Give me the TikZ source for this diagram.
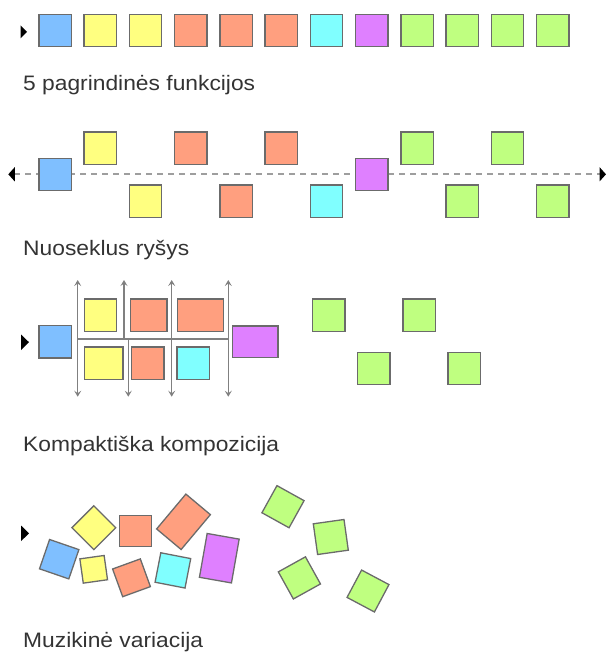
\documentclass[tikz,border=0pt]{standalone}
\usepackage{fontspec}
\setmainfont{Liberation Sans}[FakeStretch=1.09]
\usetikzlibrary{arrows.meta}
\definecolor{cblue}{HTML}{7FBFFF}
\definecolor{cyel}{HTML}{FFFF80}
\definecolor{cora}{HTML}{FF9F7F}
\definecolor{ccya}{HTML}{80FFFF}
\definecolor{cpur}{HTML}{DF80FF}
\definecolor{cgre}{HTML}{BFFF80}
\definecolor{ctxt}{HTML}{333333}
\tikzset{
  box/.style={rectangle, draw=black!58, line width=1.3bp, inner sep=0pt,
    minimum width=32.3bp, minimum height=32.3bp},
  lbl/.style={anchor=base west, inner sep=0pt, text=ctxt,
    font=\fontsize{21}{25}\selectfont},
  marker/.style={fill=black},
  dline/.style={draw=black!38, line width=2bp, dash pattern=on 6bp off 5bp,
    >={Triangle[length=6.5bp,width=14bp,black]}, <->},
  vline/.style={draw=black!50, line width=1.5bp,
    >={Stealth[length=6bp,width=7bp,inset=2.5bp]}, <->},
  hline/.style={draw=black!50, line width=1.5bp}
}
\begin{document}
\begin{tikzpicture}[x=1bp,y=-1bp]
\useasboundingbox (0,0) rectangle (606,653);

% ---------- Row 1 ----------
\fill[marker] (20.5,25.5) -- (27,32) -- (20.5,38.5) -- cycle;
\foreach \i/\c in {0/cblue,1/cyel,2/cyel,3/cora,4/cora,5/cora,6/ccya,7/cpur,8/cgre,9/cgre,10/cgre,11/cgre}{
  \node[box, fill=\c] (a\i) at ({55+45.25*\i},30.5) {};
}
\node[lbl] (t1) at (23,90.7) {5 pagrindinės funkcijos};

% ---------- Row 2 ----------
\coordinate (l2) at (8.3,174.3);
\coordinate (r2) at (606,174.3);
\draw[dline] (l2) -- (r2);
\foreach \i/\c/\y in {0/cblue/174.5,1/cyel/148,2/cyel/201,3/cora/148,4/cora/201,5/cora/148,6/ccya/201,7/cpur/174.5,8/cgre/148,9/cgre/201,10/cgre/148,11/cgre/201}{
  \node[box, fill=\c] (b\i) at ({55+45.25*\i},\y) {};
}
\node[lbl] (t2) at (23,255) {Nuoseklus ryšys};

% ---------- Row 3 ----------
\fill[marker] (21,334.5) -- (29,342.2) -- (21,350) -- cycle;
\coordinate (v1t) at (77.7,280);   \coordinate (v1b) at (77.7,396.7);
\coordinate (v2t) at (124,280);    \coordinate (v2m) at (124,339);
\coordinate (v2n) at (128.3,339);  \coordinate (v2b) at (128.3,396.7);
\coordinate (v3t) at (171.7,280);  \coordinate (v3b) at (171.7,396.7);
\coordinate (v4t) at (228.3,280);  \coordinate (v4b) at (228.3,396.7);
\coordinate (hl) at (77.7,339);    \coordinate (hr) at (228.3,339);
\draw[hline] (hl) -- (hr);
\draw[vline] (v1t) -- (v1b);
\draw[vline, ->] (v2m) -- (v2t);
\draw[vline, ->] (v2n) -- (v2b);
\draw[vline] (v3t) -- (v3b);
\draw[vline] (v4t) -- (v4b);
\node[box, fill=cblue] (c0) at (55,341.7) {};
\node[box, fill=cyel] (c1) at (100.5,315) {};
\node[box, fill=cora, minimum width=36.5bp] (c2) at (148.7,315) {};
\node[box, fill=cora, minimum width=46.5bp] (c3) at (200.5,315) {};
\node[box, fill=cyel, minimum width=38.5bp] (c4) at (103.8,363) {};
\node[box, fill=cora] (c5) at (147.9,363) {};
\node[box, fill=ccya] (c6) at (193,363) {};
\node[box, fill=cpur, minimum width=45.5bp, minimum height=31.5bp] (c7) at (255.3,341.7) {};
\node[box, fill=cgre] (c8) at (328.9,315) {};
\node[box, fill=cgre] (c9) at (419.2,315) {};
\node[box, fill=cgre] (c10) at (373.7,368.3) {};
\node[box, fill=cgre] (c11) at (464,368.3) {};
\node[lbl] (t3) at (23,451.7) {Kompaktiška kompozicija};

% ---------- Row 4 ----------
\fill[marker] (21,525.5) -- (29,533.3) -- (21,541.2) -- cycle;
\node[box, fill=cblue, minimum width=31bp, minimum height=31bp, rotate=-19] (d0) at (59.2,559.2) {};
\node[box, fill=cyel, minimum width=31bp, minimum height=31bp, rotate=45] (d1) at (93.8,527.7) {};
\node[box, fill=cyel, minimum width=24.5bp, minimum height=24.5bp, rotate=8] (d2) at (93.7,569.3) {};
\node[box, fill=cora, minimum width=32bp, minimum height=31bp] (d3) at (135.3,530.8) {};
\node[box, fill=cora, minimum width=29.5bp, minimum height=29.5bp, rotate=20] (d4) at (131.5,577.8) {};
\node[box, fill=cora, minimum width=32bp, minimum height=45.5bp, rotate=-40] (d5) at (183.5,521.8) {};
\node[box, fill=ccya, minimum width=30.5bp, minimum height=30bp, rotate=-11] (d6) at (172.9,570.4) {};
\node[box, fill=cpur, minimum width=32.5bp, minimum height=44.5bp, rotate=-10] (d7) at (219.3,558.2) {};
\node[box, fill=cgre, minimum width=31bp, minimum height=31bp, rotate=-29] (d8) at (283,506.7) {};
\node[box, fill=cgre, minimum width=31bp, minimum height=31bp, rotate=8] (d9) at (330.8,537) {};
\node[box, fill=cgre, minimum width=31bp, minimum height=31bp, rotate=29] (d10) at (299.4,577.9) {};
\node[box, fill=cgre, minimum width=31bp, minimum height=31bp, rotate=-28] (d11) at (368,591) {};
\node[lbl] (t4) at (23,647.3) {Muzikinė variacija};
\end{tikzpicture}
\end{document}
